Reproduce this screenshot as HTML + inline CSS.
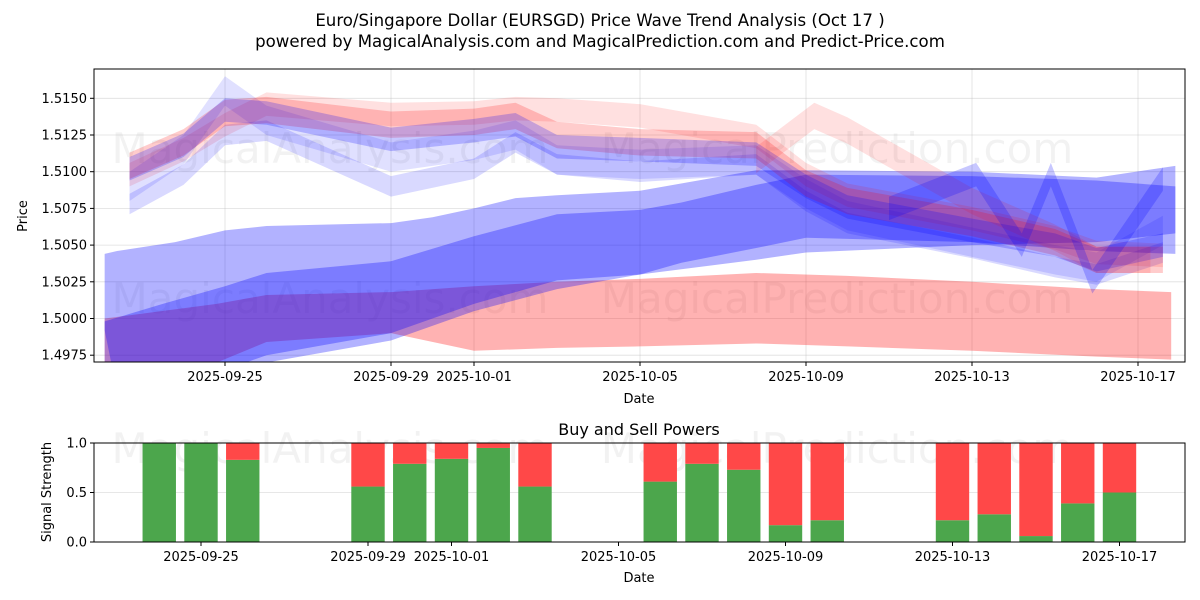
<!DOCTYPE html>
<html><head><meta charset="utf-8"><style>
body{margin:0;background:#fff;}
svg{display:block;font-family:"DejaVu Sans","Liberation Sans",sans-serif;}
</style></head><body>
<svg id="c" width="1200" height="600" viewBox="0 0 1200 600" xmlns="http://www.w3.org/2000/svg"></svg>
<script>
// ---------- data ----------
const topTickDays=[0,4,6,10,14,18,22];
const topTickLabels=["2025-09-25","2025-09-29","2025-10-01","2025-10-05","2025-10-09","2025-10-13","2025-10-17"];
const priceTicks=[1.4975,1.5000,1.5025,1.5050,1.5075,1.5100,1.5125,1.5150];
const redLowDays=[-2.9,-0.2,1,4,6,8,10,12.8,15,18,21,22.8];
const redLowUpper=[1.5000,1.5010,1.5016,1.5018,1.5022,1.5025,1.5027,1.5031,1.5029,1.5025,1.5020,1.5018];
const redLowLower=[1.4960,1.4970,1.4984,1.4990,1.4978,1.4980,1.4981,1.4983,1.4981,1.4978,1.4974,1.4972];
const blueADays=[-2.9,-2.6,-1.2,0,1,4,5,6,7,8,10,12.8,14,18,21,22.9];
const blueAUpper=[1.5044,1.5046,1.5052,1.5060,1.5063,1.5065,1.5069,1.5075,1.5082,1.5084,1.5087,1.5101,1.5101,1.5100,1.5096,1.5104];
const blueALower=[1.4992,1.4950,1.4955,1.4965,1.4975,1.4990,1.5000,1.5010,1.5018,1.5026,1.5030,1.5040,1.5045,1.5050,1.5052,1.5058];
const blueBDays=[-2.9,-1.5,0,1,4,6,8,10,11,12.8,14,18,21,22.9];
const blueBUpper=[1.4998,1.5010,1.5022,1.5031,1.5039,1.5056,1.5071,1.5074,1.5079,1.5091,1.5098,1.5097,1.5094,1.5090];
const blueBLower=[1.4960,1.4960,1.4962,1.4970,1.4985,1.5005,1.5020,1.5030,1.5038,1.5048,1.5055,1.5052,1.5046,1.5044];
const clusterDays=[-2.3,-1,0,1,4,6,7,8,10,12.8,14,15,18,20,21,22.6];
const bandT1=[1.5102,1.5118,1.5142,1.5140,1.5122,1.5128,1.5132,1.5117,1.5115,1.5112,1.5090,1.5076,1.5060,1.5050,1.5040,1.5050];
const bandT2=[1.5104,1.5120,1.5140,1.5142,1.5132,1.5134,1.5138,1.5125,1.5120,1.5118,1.5092,1.5080,1.5065,1.5052,1.5040,1.5040];
const bandT3=[1.5098,1.5115,1.5132,1.5146,1.5139,1.5140,1.5143,1.5142,1.5138,1.5124,1.5098,1.5084,1.5068,1.5055,1.5045,1.5043];
const bandT4=[1.5078,1.5098,1.5125,1.5128,1.5090,1.5102,1.5120,1.5105,1.5100,1.5105,1.5080,1.5065,1.5048,1.5035,1.5030,1.5045];
const bandT5=[1.5090,1.5115,1.5155,1.5135,1.5110,1.5118,1.5125,1.5108,1.5105,1.5108,1.5085,1.5070,1.5052,1.5040,1.5035,1.5060];
const halfT=[0.0008,0.0009,0.0008,0.0007,0.0010];
const spikeDays=[12.8,14.2,15,18,20,21,22.3];
const spikeVals=[1.5108,1.5138,1.5128,1.5080,1.5055,1.5040,1.5040];
const zigDays=[16,18.1,19.2,19.9,20.9,22.6];
const zigVals=[1.5075,1.5098,1.5050,1.5098,1.5025,1.5095];
const barDays=[-1,0,1,4,5,6,7,8,11,12,13,14,15,18,19,20,21,22];
const buyVals=[1.0,1.0,0.83,0.56,0.79,0.84,0.95,0.56,0.61,0.79,0.73,0.17,0.22,0.22,0.28,0.06,0.39,0.50];
const sigTicks=[0.0,0.5,1.0];

// ---------- scales ----------
const L=94,R=1185,T1=69,B1=362,T2=443,B2=542;
const xT=d=>225+d*41.5;
const yT=v=>98.3+(1.5150-v)/0.0025*36.7;
const xB=d=>201+d*41.75;
const yB=v=>B2-v*(B2-T2);
const svg=document.getElementById('c');
const NS='http://www.w3.org/2000/svg';
function mk(tag,attrs,parent){const e=document.createElementNS(NS,tag);for(const k in attrs)e.setAttribute(k,attrs[k]);(parent||svg).appendChild(e);return e;}
function txt(s,x,y,attrs,parent){const e=mk('text',Object.assign({x:x,y:y},attrs),parent);e.textContent=s;return e;}

const defs=mk('defs',{});
const cp=mk('clipPath',{id:'cp1'},defs);mk('rect',{x:L,y:T1,width:R-L,height:B1-T1},cp);

let t=txt('Euro/Singapore Dollar (EURSGD) Price Wave Trend Analysis (Oct 17 )',600,26,{'text-anchor':'middle','font-size':'16.6'});

t=txt('powered by MagicalAnalysis.com and MagicalPrediction.com and Predict-Price.com',600,47,{'text-anchor':'middle','font-size':'16.6'});


const wm=[['MagicalAnalysis.com',330,163],['MagicalPrediction.com',837,163],['MagicalAnalysis.com',330,313],['MagicalPrediction.com',837,313],['MagicalAnalysis.com',330,463],['MagicalPrediction.com',837,463]];
wm.forEach(w=>{const e=txt(w[0],w[1],w[2],{'text-anchor':'middle','font-size':'42',fill:'#000','fill-opacity':'0.05'});
});

const gTop=mk('g',{});

topTickDays.forEach(d=>mk('line',{x1:xT(d),x2:xT(d),y1:T1,y2:B1,stroke:'#b0b0b0','stroke-opacity':'0.4','stroke-width':'0.8'},gTop));
priceTicks.forEach(v=>mk('line',{x1:L,x2:R,y1:yT(v),y2:yT(v),stroke:'#b0b0b0','stroke-opacity':'0.4','stroke-width':'0.8'},gTop));

const gB=mk('g',{'clip-path':'url(#cp1)'});

function band(days,up,lo,color,op,name){
  let p=days.map((d,i)=>xT(d)+','+yT(up[i]));
  for(let i=days.length-1;i>=0;i--)p.push(xT(days[i])+','+yT(lo[i]));
  const e=mk('polygon',{points:p.join(' '),fill:color,'fill-opacity':op},gB);
  
}
function cband(days,c,hw,color,op,name){band(days,c.map(v=>v+hw),c.map(v=>v-hw),color,op,name);}
band(redLowDays,redLowUpper,redLowLower,'#ff0000',0.3,'red-low-band');
band(blueADays,blueAUpper,blueALower,'#0000ff',0.3,'blue-wide-band');
band(blueBDays,blueBUpper,blueBLower,'#0000ff',0.3,'blue-inner-band');
cband(clusterDays,bandT3,halfT[2],'#ff0000',0.12,'red-upper-band');
cband(clusterDays,bandT5,halfT[4],'#0000ff',0.12,'blue-spike-band');
cband(clusterDays,bandT4,halfT[3],'#0000ff',0.15,'blue-lower-band');
cband(clusterDays,bandT2,halfT[1],'#ff0000',0.2,'red-main-band');
cband(clusterDays,bandT1,halfT[0],'#0000ff',0.22,'blue-main-band');
cband(spikeDays,spikeVals,0.0009,'#ff0000',0.12,'red-spike-band');
cband(zigDays,zigVals,0.0008,'#0000ff',0.22,'blue-zigzag-band');

let e=mk('rect',{x:L,y:T1,width:R-L,height:B1-T1,fill:'none',stroke:'#000','stroke-width':'1'});

topTickDays.forEach((d,i)=>{mk('line',{x1:xT(d),x2:xT(d),y1:B1,y2:B1+4,stroke:'#000'});
  const l=txt(topTickLabels[i],xT(d),B1+19,{'text-anchor':'middle','font-size':'13'});
  });
priceTicks.forEach(v=>{mk('line',{x1:L-4,x2:L,y1:yT(v),y2:yT(v),stroke:'#000'});
  const l=txt(v.toFixed(4),L-7,yT(v)+4.5,{'text-anchor':'end','font-size':'13'});
  });
t=txt('Date',639,403,{'text-anchor':'middle','font-size':'13'});

t=txt('Price',27,216,{'text-anchor':'middle','font-size':'13',transform:'rotate(-90 27 216)'});


t=txt('Buy and Sell Powers',639,435,{'text-anchor':'middle','font-size':'16'});

sigTicks.forEach(v=>mk('line',{x1:L,x2:R,y1:yB(v),y2:yB(v),stroke:'#b0b0b0','stroke-opacity':'0.4','stroke-width':'0.8'}));
const gBar=mk('g',{});

barDays.forEach((d,i)=>{
  const w=0.8*41.75,x=xB(d)-w/2;
  const g=mk('rect',{x:x,y:yB(buyVals[i]),width:w,height:yB(0)-yB(buyVals[i]),fill:'#4ca64c'},gBar);
  
  const r=mk('rect',{x:x,y:yB(1),width:w,height:yB(buyVals[i])-yB(1),fill:'#ff4848'},gBar);
  
});
e=mk('rect',{x:L,y:T2,width:R-L,height:B2-T2,fill:'none',stroke:'#000','stroke-width':'1'});

topTickDays.forEach((d,i)=>{mk('line',{x1:xB(d),x2:xB(d),y1:B2,y2:B2+4,stroke:'#000'});
  const l=txt(topTickLabels[i],xB(d),B2+19,{'text-anchor':'middle','font-size':'13'});
  });
sigTicks.forEach(v=>{mk('line',{x1:L-4,x2:L,y1:yB(v),y2:yB(v),stroke:'#000'});
  const l=txt(v.toFixed(1),L-7,yB(v)+4.5,{'text-anchor':'end','font-size':'13'});
  });
t=txt('Date',639,582,{'text-anchor':'middle','font-size':'13'});

t=txt('Signal Strength',51,492,{'text-anchor':'middle','font-size':'13',transform:'rotate(-90 51 492)'});

</script>
</body></html>
